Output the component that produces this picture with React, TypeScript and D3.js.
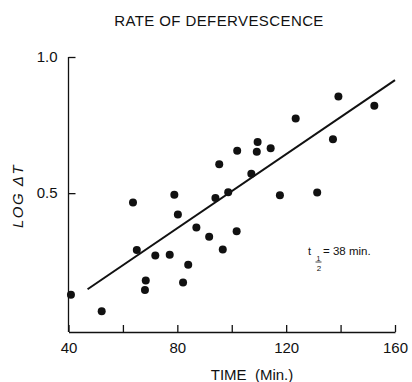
import React, { useEffect, useRef } from "react";
import * as d3 from "d3";

// time (min.) vs log ΔT
const timeMin = [63.7, 78.9, 80.2, 87.0, 91.7, 96.7, 101.8, 94.0, 98.7, 95.4, 102.0, 109.5, 109.2, 114.3, 107.2,
  117.7, 131.4, 137.2, 65.1, 71.9, 77.2, 123.5, 139.2, 152.4, 40.9, 52.2, 68.4, 68.1, 82.1, 84.0];
const logDeltaT = [0.466, 0.494, 0.422, 0.374, 0.340, 0.293, 0.360, 0.482, 0.503, 0.606, 0.656, 0.688, 0.652, 0.665, 0.571,
  0.492, 0.502, 0.698, 0.291, 0.271, 0.274, 0.774, 0.855, 0.821, 0.127, 0.066, 0.179, 0.144, 0.172, 0.237];

// fitted line end points
const fitTime = [47, 160];
const fitLog = [0.147, 0.915];

const xTicks = [40, 60, 80, 100, 120, 140, 160];
const xLabels = ["40", "", "80", "", "120", "", "160"];
const yTicks = [0.5, 1.0];
const yLabels = ["0.5", "1.0"];

function App() {
  const ref = useRef<SVGSVGElement | null>(null);

  useEffect(() => {
    const svg = d3.select(ref.current);
    svg.selectAll("*").remove();

    const x = d3.scaleLinear([40, 160], [68.5, 395]);
    const y = d3.scaleLinear([-0.01, 1.0], [332, 57]);
    const ink = "#111";
    const font = "'Liberation Sans', Arial, sans-serif";

    // title
    svg.append("text")
      .attr("x", 219)
      .attr("y", 26)
      .attr("text-anchor", "middle")
      .attr("font-family", font)
      .attr("font-size", 15)
      .attr("letter-spacing", 0.4)
      .attr("fill", ink)
      .text("RATE OF DEFERVESCENCE");

    // x axis, ticks pointing inward
    const xAxis = svg.append("g")
      .attr("transform", `translate(0,${y(-0.01)})`)
      .call(d3.axisBottom(x).tickValues(xTicks).tickSize(-7).tickSizeOuter(0).tickPadding(10)
        .tickFormat((d, i) => xLabels[i]));
    xAxis.selectAll("text").attr("font-size", 15).attr("font-family", font).attr("fill", ink);
    xAxis.selectAll("line, path").attr("stroke", ink).attr("stroke-width", 1.3);

    // y axis
    const yAxis = svg.append("g")
      .attr("transform", `translate(${x(40)},0)`)
      .call(d3.axisLeft(y).tickValues(yTicks).tickSize(-7).tickSizeOuter(0).tickPadding(11)
        .tickFormat((d, i) => yLabels[i]));
    yAxis.selectAll("text").attr("font-size", 15).attr("font-family", font).attr("fill", ink);
    yAxis.selectAll("line, path").attr("stroke", ink).attr("stroke-width", 1.3);
    yAxis.select(".domain").attr("d", `M0,${y(1.0)}V${y(-0.01)}`);

    // axis titles
    svg.append("text")
      .attr("x", 252)
      .attr("y", 380)
      .attr("text-anchor", "middle")
      .attr("font-family", font)
      .attr("font-size", 15)
      .attr("fill", ink)
      .attr("xml:space", "preserve")
      .text("TIME  (Min.)");

    svg.append("text")
      .attr("transform", `translate(23,196) rotate(-90)`)
      .attr("text-anchor", "middle")
      .attr("font-family", font)
      .attr("font-style", "italic")
      .attr("font-size", 15)
      .attr("letter-spacing", 1.5)
      .attr("fill", ink)
      .text("LOG ΔT");

    // regression line
    const line = d3.line<number>()
      .x(d => x(fitTime[d]))
      .y(d => y(fitLog[d]));
    svg.append("path")
      .attr("d", line([0, 1]))
      .attr("fill", "none")
      .attr("stroke", ink)
      .attr("stroke-width", 2);

    // points
    svg.append("g")
      .selectAll("circle")
      .data(timeMin)
      .join("circle")
      .attr("cx", d => x(d))
      .attr("cy", (d, i) => y(logDeltaT[i]))
      .attr("r", 4)
      .attr("fill", ink);

    // half-life note
    const note = svg.append("g").attr("font-family", font).attr("fill", ink);
    note.append("text").attr("x", 308).attr("y", 255).attr("font-size", 11).text("t");
    note.append("text").attr("x", 318.5).attr("y", 261).attr("font-size", 7).attr("text-anchor", "middle").text("1");
    note.append("line").attr("x1", 315.5).attr("x2", 321.5).attr("y1", 262).attr("y2", 262)
      .attr("stroke", ink).attr("stroke-width", 0.8);
    note.append("text").attr("x", 319).attr("y", 271).attr("font-size", 8).attr("text-anchor", "middle").text("2");
    note.append("text").attr("x", 323).attr("y", 255).attr("font-size", 11.5).text("= 38 min.");
  }, []);

  return (
    <svg ref={ref} width={412} height={382}
      style={{ position: "absolute", left: 0, top: 0, background: "#fff" }} />
  );
}

export default App;
